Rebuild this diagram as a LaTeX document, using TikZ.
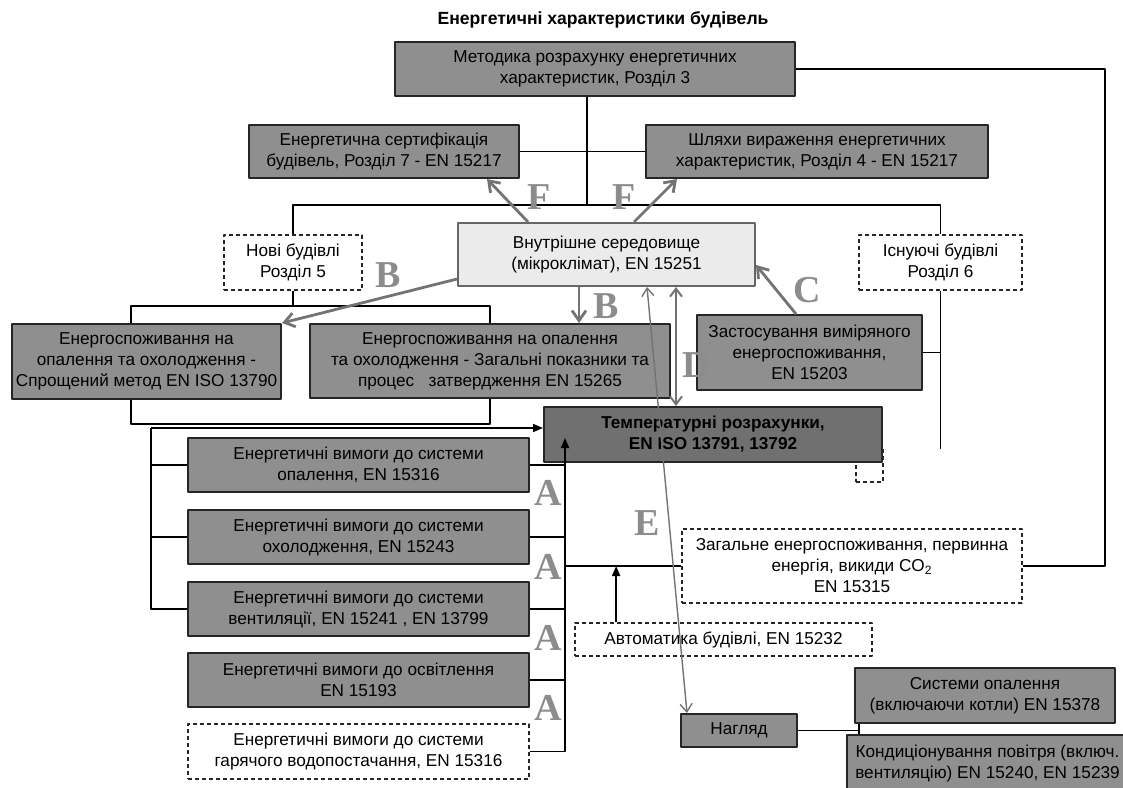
\documentclass[tikz,border=0pt]{standalone}
\usepackage{fontspec}
\setmainfont{Liberation Sans}
\newfontfamily\letterfont{Liberation Serif}
\usetikzlibrary{arrows.meta}
\definecolor{boxgray}{gray}{0.56}
\definecolor{tempgray}{gray}{0.44}
\definecolor{envgray}{gray}{0.92}
\definecolor{arrgray}{gray}{0.45}
\definecolor{letgray}{gray}{0.55}
\tikzset{
  gbox/.style={draw=black!85, line width=1pt, fill=boxgray, align=center, inner sep=1pt,
    font=\fontsize{8.6pt}{10.5pt}\selectfont},
  dbox/.style={gbox, fill=white, line width=0.9pt, dash pattern=on 2pt off 1.5pt},
  ttl/.style={font=\bfseries\fontsize{8.8pt}{10pt}\selectfont},
  lett/.style={font=\letterfont\bfseries\fontsize{19pt}{19pt}\selectfont, text=letgray, inner sep=0pt},
  conn/.style={line width=0.9pt},
  garrow/.style={draw=arrgray, line width=1.4pt, -{Straight Barb[length=5pt,width=7pt]}},
  tharrow/.style={draw=arrgray, line width=0.7pt, {Straight Barb[length=4pt,width=6pt]}-{Straight Barb[length=4pt,width=6pt]}}
}
\begin{document}
\begin{tikzpicture}[line join=round,>={Triangle[length=5pt,width=4pt]},x=0.5pt,y=-0.5pt]
\useasboundingbox (0,0) rectangle (1123,787);
\clip (0,0) rectangle (1123,787);
\node[ttl] (title) at (603,20) {Енергетичні характеристики будівель};
\node[gbox,minimum width=200pt,minimum height=27pt] (metod) at (595,69) {Методика розрахунку енергетичних\\характеристик, Розділ 3};
\node[gbox,minimum width=135pt,minimum height=26.5pt] (cert) at (384,151.5) {Енергетична сертифікація\\будівель, Розділ 7 - EN 15217};
\node[gbox,minimum width=171pt,minimum height=26.5pt] (shl) at (817,151.5) {Шляхи вираження енергетичних\\характеристик, Розділ 4 - EN 15217};
\node[dbox,minimum width=69pt,minimum height=27.5pt] (nov) at (293,262.5) {Нові будівлі\\Розділ 5};
\node[dbox,minimum width=81.5pt,minimum height=27.5pt] (isn) at (940.5,262.5) {Існуючі будівлі\\Розділ 6};
\node[gbox,fill=envgray,draw=black!60,minimum width=148.5pt,minimum height=31.5pt] (vnut) at (606.5,254.5) {Внутрішне середовище\\(мікроклімат), EN 15251};
\node[gbox,minimum width=134.5pt,minimum height=37.5pt] (eh1) at (146.5,361.5) {Енергоспоживання на\\опалення та охолодження -\\Спрощений метод EN ISO 13790};
\node[gbox,minimum width=180pt,minimum height=37pt] (eh2) at (490,361) {Енергоспоживання на опалення\\та охолодження - Загальні показники та\\процес\ \ \ затвердження EN 15265};
\node[gbox,minimum width=112.5pt,minimum height=37.5pt] (zast) at (809.5,352.5) {Застосування виміряного\\енергоспоживання,\\EN 15203};
\node[dbox,minimum width=13.5pt,minimum height=17pt] (stub) at (869.5,465) {};
\node[gbox,fill=tempgray,minimum width=169pt,minimum height=27.5pt,font=\bfseries\fontsize{8.6pt}{10.5pt}\selectfont] (temp) at (713,434.5) {Температурні розрахунки,\\EN ISO 13791, 13792};
\node[gbox,minimum width=170.5pt,minimum height=27pt] (a1) at (358.5,465) {Енергетичні вимоги до системи\\опалення, EN 15316};
\node[gbox,minimum width=170.5pt,minimum height=27pt] (a2) at (358.5,537) {Енергетичні вимоги до системи\\охолодження, EN 15243};
\node[gbox,minimum width=170.5pt,minimum height=27pt] (a3) at (358.5,609) {Енергетичні вимоги до системи\\вентиляції, EN 15241 , EN 13799};
\node[gbox,minimum width=170.5pt,minimum height=27pt] (a4) at (358.5,680) {Енергетичні вимоги до освітлення\\EN 15193};
\node[dbox,minimum width=170.5pt,minimum height=27.5pt] (a5) at (358.5,751.5) {Енергетичні вимоги до системи\\гарячого водопостачання, EN 15316};
\node[dbox,minimum width=170pt,minimum height=37pt] (zag) at (852,566) {Загальне енергоспоживання, первинна\\енергія, викиди CO\textsubscript{2}\\EN 15315};
\node[dbox,minimum width=148.5pt,minimum height=16.5pt] (avt) at (723.5,639.5) {Автоматика будівлі, EN 15232};
\node[gbox,minimum width=58pt,minimum height=16.5pt] (nag) at (739,730.5) {Нагляд};
\node[gbox,minimum width=130pt,minimum height=27.5pt] (sys) at (985,695.5) {Системи опалення\\(включаючи котли) EN 15378};
\node[gbox,minimum width=140.5pt,minimum height=28.5pt] (kond) at (987.5,763.5) {Кондиціонування повітря (включ.\\вентиляцію) EN 15240, EN 15239};
\coordinate (jtop) at (587,205);
\coordinate (lbus) at (151,428);
\coordinate (abus) at (565,428);
\draw[conn] (metod.south -| jtop) -- (jtop);
\draw[conn] (nov.north) |- (jtop) -| (isn.north);
\draw[conn] (cert.east) -- (shl.west);
\draw[conn] (metod.east) -| ([xshift=41pt]zag.east) -- (zag.east);
\draw[conn] (nov.south) -- ++(0,15) coordinate (jnov);
\draw[conn] ([xshift=-7.75pt]eh1.north) |- (jnov) -| (eh2.north);
\draw[conn] ([xshift=-7.75pt]eh1.south) -- ++(0,24) -| (eh2.south);
\draw[conn,->] (lbus) -- (lbus -| temp.west);
\draw[conn] (lbus) |- (a3.west);
\draw[conn] (lbus |- a1.west) -- (a1.west);
\draw[conn] (lbus |- a2.west) -- (a2.west);
\draw[conn,->] (a5.east) -| ([yshift=12.5pt]temp.south -| abus);
\foreach \n in {a1,a2,a3,a4}
  \draw[conn] (\n.east) -- (\n.east -| abus);
\draw[conn] (zag.west -| abus) -- (zag.west);
\draw[conn,->] ([xshift=21pt]avt.north west) -- ([xshift=21pt]avt.north west |- zag.west);
\draw[conn] (isn.south) -- ++(0,158);
\draw[conn] (zast.east) -- (zast.east -| isn.south);
\draw[conn] (nag.east) -- ([xshift=2.5pt]sys.south west |- nag.east);
\draw[conn] ([xshift=2.5pt]sys.south west) -- ([xshift=2.5pt]sys.south west |- kond.north);
\draw[garrow] ([xshift=35.5pt]vnut.north west) -- ([xshift=-16.5pt]cert.south east);
\draw[garrow] ([xshift=88.5pt]vnut.north west) -- ([xshift=16pt]shl.south west);
\draw[garrow] ([yshift=4pt]vnut.south west) -- (eh1.north east);
\draw[garrow] ([xshift=61pt]vnut.south west) -- ([xshift=61pt]vnut.south west |- eh2.north);
\draw[garrow] ([xshift=50pt]zast.north west) -- ([yshift=11pt]vnut.south east);
\draw[tharrow,line width=1pt] ([xshift=109.5pt]vnut.south west) -- ([xshift=109.5pt]vnut.south west |- temp.north);
\draw[tharrow] ([xshift=95pt]vnut.south west) -- ([xshift=3.5pt]nag.north west);
\node[lett] (lf1) at (539,197) {F};
\node[lett] (lf2) at (624,197) {F};
\node[lett] (lb1) at (388,275) {B};
\node[lett] (lb2) at (606,306) {B};
\node[lett] (lc) at (807,290) {C};
\node[lett] (ld) at (696,365) {D};
\node[lett] (le) at (647,523) {E};
\foreach \y [count=\i] in {493,567,638,708}
  \node[lett] (la\i) at (548,\y) {A};
\end{tikzpicture}
\end{document}
